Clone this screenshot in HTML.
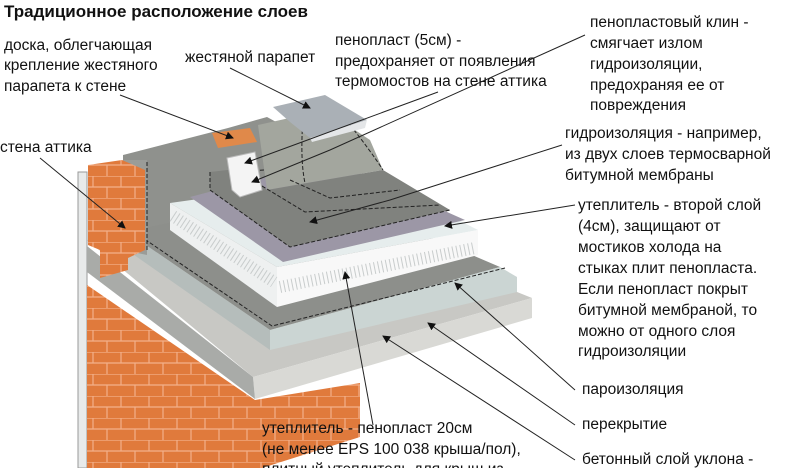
<!DOCTYPE html>
<html><head><meta charset="utf-8"><style>
body{margin:0;background:#fff;width:790px;height:468px;overflow:hidden}
svg{display:block}
text{font-family:"Liberation Sans","DejaVu Sans",sans-serif;font-size:15.5px;fill:#111}
</style></head><body>
<svg width="790" height="468" viewBox="0 0 790 468" xmlns="http://www.w3.org/2000/svg">
<defs>
<pattern id="br" width="28" height="22" patternUnits="userSpaceOnUse">
<rect width="28" height="22" fill="#e07a3c"/>
<path d="M0 0H28M0 11H28M9 0V11M23 11V22" stroke="#f3b08a" stroke-width="1.2"/>
</pattern>
<marker id="a" markerWidth="8" markerHeight="8" refX="7" refY="4" orient="auto"><path d="M0 0L8 4L0 8z" fill="#111"/></marker>
</defs>
<rect x="78" y="172" width="9" height="296" fill="#e8eaea" stroke="#999" stroke-width="1"/>
<polygon points="87,285 255,400 360,383 360,437 262,468 87,468" fill="url(#br)"/>
<!-- concrete slab -->
<polygon points="87,240 300,205 532,298 253,377" fill="#c8c8c4"/>
<polygon points="253,377 532,298 532,318 255,399" fill="#d9d9d5"/>
<polygon points="87,246 253,377 255,399 87,272" fill="#a9aba8"/>
<!-- attic gray wall -->
<polygon points="123,155 228,128 267,117 300,135 330,170 300,200 200,235 150,255 123,250" fill="#8f918d"/>
<!-- screed -->
<polygon points="127,232 320,190 500,267 270,330" fill="#8d8f8b"/>
<polygon points="270,330 500,267 517,277 517,292 270,350" fill="#cbd5d3"/>
<polygon points="127,232 270,330 270,350 127,250" fill="#b5bdbb"/>
<path d="M140,236 L272,326 L505,268" stroke="#222" stroke-dasharray="4,2" fill="none"/>
<polygon points="123,160 147,160 147,255 123,250" fill="#9a9c98"/>
<path d="M147,162 V250" stroke="#222" stroke-dasharray="4,2"/>
<polygon points="88,165 122,160 145,170 145,250 128,258 128,270 100,278 100,250 88,245" fill="url(#br)"/>
<!-- insulation block -->
<polygon points="170,203 370,175 478,230 277,267" fill="#e6eded"/>
<polygon points="277,267 478,230 478,255 277,307" fill="#f8f8f8"/>
<polygon points="170,203 277,267 277,307 170,230" fill="#eef0f0"/>
<path d="M280,287 L475,248 M173,216 L274,282" stroke="#c8cccc" stroke-width="12" stroke-dasharray="1,3"/>
<!-- purple -->
<polygon points="190,197 330,160 465,220 283,262" fill="#9c97a6"/>
<!-- upstand membrane -->
<polygon points="258,125 303,115 340,120 370,140 383,170 307,183 267,190" fill="#a3a69e"/>
<!-- top membrane -->
<polygon points="210,172 245,168 267,190 307,183 383,170 450,210 290,247 210,190" fill="#80827e"/>
<path d="M210,172 L210,190 L290,247 L450,210 M262,186 L305,212 L440,205 M290,180 L330,198 L400,190 M230,172 L265,170" stroke="#222" stroke-dasharray="4,2" fill="none"/>
<path d="M303,118 Q300,160 305,183 M350,125 Q370,150 383,170" stroke="#222" stroke-dasharray="4,2" fill="none"/>
<!-- metal parapet -->
<polygon points="273,107 325,95 367,120 310,138 290,122" fill="#aab0b6"/>
<polygon points="310,138 367,120 365,128 312,142" fill="#e4e6e8"/>
<!-- board -->
<polygon points="212,133 250,128 257,142 218,148" fill="#e0894a"/>
<!-- wedge -->
<polygon points="227,158 255,152 262,190 240,197 232,190" fill="#f4f4f4" stroke="#bbb"/>
<text x="4" y="17" style="font-weight:bold;font-size:17px">Традиционное расположение слоев</text>
<text x="4" y="50">доска, облегчающая</text>
<text x="4" y="70">крепление жестяного</text>
<text x="4" y="91">парапета к стене</text>
<text x="185" y="62">жестяной парапет</text>
<text x="335" y="45">пенопласт (5см) -</text>
<text x="335" y="66">предохраняет от появления</text>
<text x="335" y="86">термомостов на стене аттика</text>
<text x="590" y="27">пенопластовый клин -</text>
<text x="590" y="48">смягчает излом</text>
<text x="590" y="69">гидроизоляции,</text>
<text x="590" y="90">предохраняя ее от</text>
<text x="590" y="110">повреждения</text>
<text x="0" y="152">стена аттика</text>
<text x="565" y="138">гидроизоляция - например,</text>
<text x="565" y="159">из двух слоев термосварной</text>
<text x="565" y="180">битумной мембраны</text>
<text x="578" y="210">утеплитель - второй слой</text>
<text x="578" y="231">(4см), защищают от</text>
<text x="578" y="252">мостиков холода на</text>
<text x="578" y="273">стыках плит пенопласта.</text>
<text x="578" y="294">Если пенопласт покрыт</text>
<text x="578" y="315">битумной мембраной, то</text>
<text x="578" y="336">можно от одного слоя</text>
<text x="578" y="356">гидроизоляции</text>
<text x="582" y="394">пароизоляция</text>
<text x="582" y="429">перекрытие</text>
<text x="582" y="464">бетонный слой уклона -</text>
<text x="262" y="433">утеплитель - пенопласт 20см</text>
<text x="262" y="454">(не менее EPS 100 038 крыша/пол),</text>
<text x="262" y="474">плитный утеплитель для крыш из</text>
<g stroke="#222" stroke-width="1" fill="none" marker-end="url(#a)">
<path d="M120,95 L233,138"/>
<path d="M230,68 L310,108"/>
<path d="M438,92 L245,163"/>
<path d="M585,35 L330,150 L252,182"/>
<path d="M562,145 L390,200 L310,222"/>
<path d="M575,205 L445,226"/>
<path d="M40,158 L125,228"/>
<path d="M373,425 L345,272"/>
<path d="M575,390 L455,283"/>
<path d="M575,425 L428,323"/>
<path d="M575,460 L383,336"/>
</g>
</svg>
</body></html>
